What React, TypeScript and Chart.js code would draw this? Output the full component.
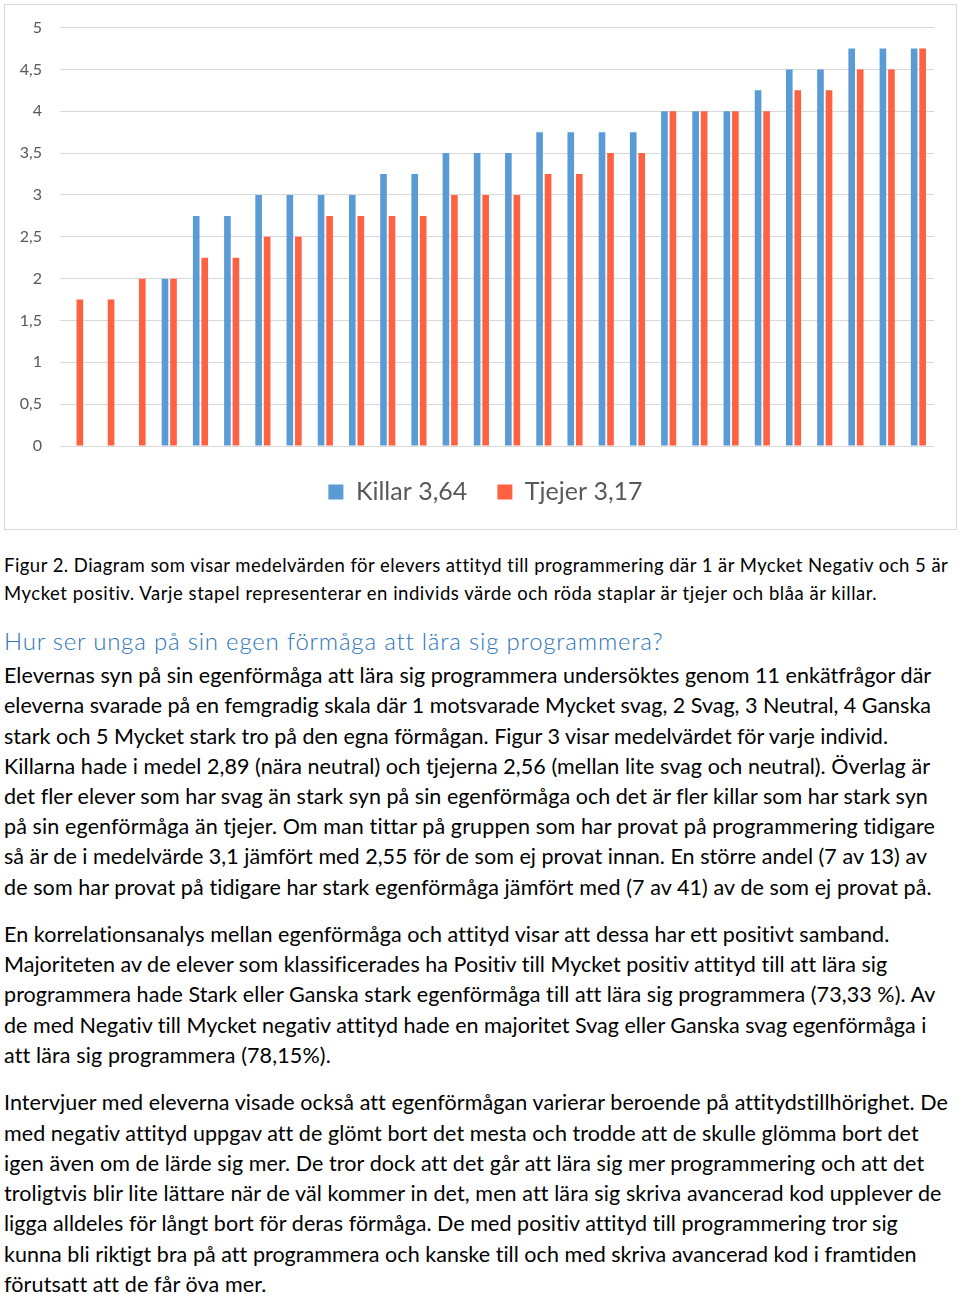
import React, { useEffect, useLayoutEffect, useRef } from "react";
import { Chart, registerables } from "chart.js";

Chart.register(...registerables);

// ---------- Data ----------
const CATEGORIES = [
  "1", "2", "3", "4", "5", "6", "7", "8", "9", "10", "11", "12", "13", "14",
  "15", "16", "17", "18", "19", "20", "21", "22", "23", "24", "25", "26", "27", "28",
];
const KILLAR: (number | null)[] = [
  null, null, null, 2, 2.75, 2.75, 3, 3, 3, 3, 3.25, 3.25, 3.5, 3.5,
  3.5, 3.75, 3.75, 3.75, 3.75, 4, 4, 4, 4.25, 4.5, 4.5, 4.75, 4.75, 4.75,
];
const TJEJER: number[] = [
  1.75, 1.75, 2, 2, 2.25, 2.25, 2.5, 2.5, 2.75, 2.75, 2.75, 2.75, 3, 3,
  3, 3.25, 3.25, 3.5, 3.5, 4, 4, 4, 4, 4.25, 4.25, 4.5, 4.5, 4.75,
];
const SERIES_NAMES = ["Killar 3,64", "Tjejer 3,17"];
const TICK_LABELS = ["0", "0,5", "1", "1,5", "2", "2,5", "3", "3,5", "4", "4,5", "5"];

// ---------- Text ----------
const CAPTION_LINES: [string, number][] = [
  ["Figur 2. Diagram som visar medelvärden för elevers attityd till programmering där 1 är Mycket Negativ och 5 är", 948],
  ["Mycket positiv. Varje stapel representerar en individs värde och röda staplar är tjejer och blåa är killar.", 877],
];
const HEADING: [string, number] = ["Hur ser unga på sin egen förmåga att lära sig programmera?", 662];
const PARA1: [string, number][] = [
  ["Elevernas syn på sin egenförmåga att lära sig programmera undersöktes genom 11 enkätfrågor där", 930],
  ["eleverna svarade på en femgradig skala där 1 motsvarade Mycket svag, 2 Svag, 3 Neutral, 4 Ganska", 931],
  ["stark och 5 Mycket stark tro på den egna förmågan. Figur 3 visar medelvärdet för varje individ.", 888],
  ["Killarna hade i medel 2,89 (nära neutral) och tjejerna 2,56 (mellan lite svag och neutral). Överlag är", 930],
  ["det fler elever som har svag än stark syn på sin egenförmåga och det är fler killar som har stark syn", 928],
  ["på sin egenförmåga än tjejer. Om man tittar på gruppen som har provat på programmering tidigare", 935],
  ["så är de i medelvärde 3,1 jämfört med 2,55 för de som ej provat innan. En större andel (7 av 13) av", 927],
  ["de som har provat på tidigare har stark egenförmåga jämfört med (7 av 41) av de som ej provat på.", 932],
];
const PARA2: [string, number][] = [
  ["En korrelationsanalys mellan egenförmåga och attityd visar att dessa har ett positivt samband.", 888],
  ["Majoriteten av de elever som klassificerades ha Positiv till Mycket positiv attityd till att lära sig", 887],
  ["programmera hade Stark eller Ganska stark egenförmåga till att lära sig programmera (73,33 %). Av", 935],
  ["de med Negativ till Mycket negativ attityd hade en majoritet Svag eller Ganska svag egenförmåga i", 927],
  ["att lära sig programmera (78,15%).", 330],
];
const PARA3: [string, number][] = [
  ["Intervjuer med eleverna visade också att egenförmågan varierar beroende på attitydstillhörighet. De", 947],
  ["med negativ attityd uppgav att de glömt bort det mesta och trodde att de skulle glömma bort det", 917],
  ["igen även om de lärde sig mer. De tror dock att det går att lära sig mer programmering och att det", 922],
  ["troligtvis blir lite lättare när de väl kommer in det, men att lära sig skriva avancerad kod upplever de", 940],
  ["ligga alldeles för långt bort för deras förmåga. De med positiv attityd till programmering tror sig", 898],
  ["kunna bli riktigt bra på att programmera och kanske till och med skriva avancerad kod i framtiden", 917],
  ["förutsatt att de får öva mer.", 265],
];

const FONT = "Lato, 'Open Sans', sans-serif";

function TextLine(props: {
  text: string;
  x: number;
  cy: number;
  right: number;
  size: number;
  color: string;
  weight?: number;
}) {
  const { text, x, cy, right, size, color, weight = 400 } = props;
  const ref = useRef<HTMLDivElement>(null);
  useLayoutEffect(() => {
    const fit = () => {
      const el = ref.current;
      if (!el) return;
      el.style.letterSpacing = "0px";
      const w = el.getBoundingClientRect().width;
      const n = Array.from(text).length;
      const ls = (right - x - w) / Math.max(1, n - 1);
      el.style.letterSpacing = ls + "px";
    };
    fit();
    if ((document as any).fonts && (document as any).fonts.ready) {
      (document as any).fonts.ready.then(fit);
    }
  }, [text, x, right, size]);
  const lh = size * 1.2;
  const top = cy + 3 - lh / 2 - 0.134 * size;
  return (
    <div
      ref={ref}
      style={{
        position: "absolute",
        left: x,
        top,
        whiteSpace: "nowrap",
        fontFamily: FONT,
        fontSize: size,
        fontWeight: weight,
        lineHeight: lh + "px",
        color,
      }}
    >
      {text}
    </div>
  );
}

// shifts the (full-width) legend horizontally so it is centred like the reference
const legendShift = {
  id: "legendShift",
  afterLayout(chart: any) {
    const l = chart.legend;
    if (l) {
      l.left += 18.5;
      l.right += 18.5;
    }
  },
};

function BarChart() {
  const canvasRef = useRef<HTMLCanvasElement>(null);
  useEffect(() => {
    const canvas = canvasRef.current;
    if (!canvas) return;
    const chart = new Chart(canvas, {
      type: "bar",
      data: {
        labels: CATEGORIES,
        datasets: [
          {
            label: SERIES_NAMES[0],
            data: KILLAR,
            backgroundColor: "#5B9BD5",
            borderWidth: 0,
            categoryPercentage: 0.545,
            barPercentage: 0.78,
          },
          {
            label: SERIES_NAMES[1],
            data: TJEJER,
            backgroundColor: "#FF6141",
            borderWidth: 0,
            categoryPercentage: 0.545,
            barPercentage: 0.78,
          },
        ],
      },
      plugins: [legendShift],
      options: {
        animation: false,
        responsive: false,
        maintainAspectRatio: false,
        layout: { padding: { left: 0, right: 26, top: 26, bottom: 5.5 } },
        plugins: {
          legend: {
            position: "bottom",
            labels: {
              boxWidth: 15,
              boxHeight: 15,
              padding: 30,
              color: "#595959",
              font: { family: FONT, size: 25 },
            },
          },
          tooltip: { enabled: false },
        },
        scales: {
          x: {
            grid: { display: false },
            border: { display: false },
            ticks: { display: false },
            afterFit: (s: any) => {
              s.height = 3.5;
            },
          },
          y: {
            min: 0,
            max: 5,
            ticks: {
              stepSize: 0.5,
              padding: 18,
              color: "#595959",
              font: { family: FONT, size: 16 },
              callback: (v: any) => TICK_LABELS[Math.round(Number(v) / 0.5)] ?? String(v),
            },
            grid: { color: "#D9D9D9", drawTicks: false, lineWidth: 1 },
            border: { display: false },
            afterFit: (s: any) => {
              s.width = 60;
            },
          },
        },
      },
    } as any);
    return () => chart.destroy();
  }, []);
  return (
    <canvas
      ref={canvasRef}
      width={960}
      height={520}
      style={{ position: "absolute", left: 0, top: 0, width: 960, height: 520 }}
    />
  );
}

export default function App() {
  useEffect(() => {
    document.body.style.margin = "0";
    document.body.style.background = "#ffffff";
  }, []);
  const bodySize = 21.5;
  return (
    <div style={{ position: "relative", width: 960, height: 1294, background: "#fff", overflow: "hidden" }}>
      <div
        style={{
          position: "absolute",
          left: 4,
          top: 4,
          width: 953,
          height: 526,
          border: "1px solid #D9D9D9",
          boxSizing: "border-box",
        }}
      />
      <BarChart />
      {CAPTION_LINES.map(([t, r], i) => (
        <TextLine key={"c" + i} text={t} x={4} cy={565 + i * 28} right={r} size={18.5} color="#000" />
      ))}
      <TextLine text={HEADING[0]} x={4} cy={642} right={HEADING[1]} size={24} color="#2E74B5" weight={300} />
      {PARA1.map(([t, r], i) => (
        <TextLine key={"a" + i} text={t} x={4} cy={676 + i * 30.2} right={r} size={bodySize} color="#000" />
      ))}
      {PARA2.map(([t, r], i) => (
        <TextLine key={"b" + i} text={t} x={4} cy={935 + i * 30.1} right={r} size={bodySize} color="#000" />
      ))}
      {PARA3.map(([t, r], i) => (
        <TextLine key={"d" + i} text={t} x={4} cy={1103 + i * 30.3} right={r} size={bodySize} color="#000" />
      ))}
    </div>
  );
}
